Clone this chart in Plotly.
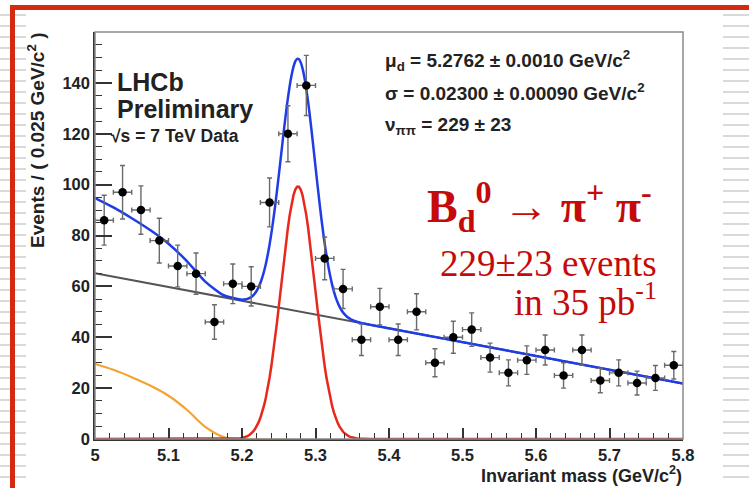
import numpy as np
import plotly.graph_objects as go

# ---------------- data ----------------
bin_centers = [5.0125, 5.0375, 5.0625, 5.0875, 5.1125, 5.1375, 5.1625, 5.1875,
               5.2125, 5.2375, 5.2625, 5.2875, 5.3125, 5.3375, 5.3625, 5.3875,
               5.4125, 5.4375, 5.4625, 5.4875, 5.5125, 5.5375, 5.5625, 5.5875,
               5.6125, 5.6375, 5.6625, 5.6875, 5.7125, 5.7375, 5.7625, 5.7875]
counts = [86, 97, 90, 78, 68, 65, 46, 61, 60, 93, 120, 139, 71, 59, 39, 52,
          39, 50, 30, 40, 43, 32, 26, 31, 35, 25, 35, 23, 26, 22, 24, 29]
count_err = [9.8, 10.5, 9.5, 8.8, 8.2, 8.1, 6.8, 7.8, 7.7, 9.6, 11.0, 11.8,
             8.4, 7.7, 6.2, 7.2, 6.2, 7.1, 5.5, 6.3, 6.6, 5.7, 5.1, 5.6,
             5.9, 5.0, 5.9, 4.8, 5.1, 4.7, 4.9, 5.4]
half_bin = 0.0125

# fit model parameters (as printed on the chart)
mu_d = 5.2762
sigma = 0.02300
n_sig = 229
bin_width = 0.025
# linear combinatorial background: values at the range ends
bkg_x = [5.0, 5.8]
bkg_y = [65.2, 21.8]
# partially reconstructed background (orange)
prb_x = [5.0, 5.025, 5.05, 5.075, 5.1, 5.125, 5.15, 5.175, 5.2]
prb_y = [29.5, 27.2, 24.3, 21.0, 17.0, 11.5, 4.8, 0.8, 0.0]

x_ticks = [5.0, 5.1, 5.2, 5.3, 5.4, 5.5, 5.6, 5.7, 5.8]
x_ticklabels = ["5", "5.1", "5.2", "5.3", "5.4", "5.5", "5.6", "5.7", "5.8"]
y_ticks = [0, 20, 40, 60, 80, 100, 120, 140]

# ---------------- model curves ----------------
def bkg(x):
    x = np.asarray(x, dtype=float)
    return bkg_y[0] + (bkg_y[1] - bkg_y[0]) * (x - bkg_x[0]) / (bkg_x[1] - bkg_x[0])

amp = n_sig * bin_width / (sigma * np.sqrt(2 * np.pi))

def sig(x):
    x = np.asarray(x, dtype=float)
    return amp * np.exp(-0.5 * ((x - mu_d) / sigma) ** 2)

fine_x = np.linspace(5.2, 5.8, 241)
curve_x = np.concatenate([np.array(prb_x[:-1]), fine_x])
prb_full = np.concatenate([np.array(prb_y[:-1]), np.zeros_like(fine_x)])
total_y = bkg(curve_x) + sig(curve_x) + prb_full

sig_x = np.linspace(5.0, 5.8, 321)

# ---------------- figure ----------------
L, R, T, B = 95, 683, 32, 439
W, H = 749, 488

def px(x):
    return (x - L) / (R - L)

def py(y):
    return (B - y) / (B - T)

fig = go.Figure()

fig.add_trace(go.Scatter(x=bkg_x, y=bkg_y, mode="lines",
                         line=dict(color="#555555", width=2), hoverinfo="skip"))
fig.add_trace(go.Scatter(x=prb_x + [5.8], y=prb_y + [0.0], mode="lines",
                         line=dict(color="#f5a231", width=2.2, shape="spline", smoothing=1.0),
                         hoverinfo="skip"))
fig.add_trace(go.Scatter(x=sig_x, y=sig(sig_x), mode="lines",
                         line=dict(color="#e8281c", width=2.5), hoverinfo="skip"))
fig.add_trace(go.Scatter(x=curve_x, y=total_y, mode="lines",
                         line=dict(color="#1f3ce6", width=2.5, shape="spline", smoothing=0.6),
                         hoverinfo="skip"))
fig.add_trace(go.Scatter(
    x=bin_centers, y=counts, mode="markers",
    marker=dict(color="black", size=8.5),
    error_y=dict(type="data", array=count_err, color="#6a6a6a", thickness=1.4, width=2.5),
    error_x=dict(type="constant", value=half_bin, color="#6a6a6a", thickness=1.4, width=2.5),
))

shapes = []
# notebook-paper lines in the slide background
for yy in range(15, 488, 11):
    for x0, x1 in [(0, 26), (723, 749)]:
        shapes.append(dict(type="line", xref="paper", yref="paper",
                           x0=px(x0), x1=px(x1), y0=py(yy), y1=py(yy),
                           line=dict(color="#d9d9d9", width=2), layer="below"))
# red slide frame
shapes.append(dict(type="line", xref="paper", yref="paper",
                   x0=px(10), x1=px(749), y0=py(7.5), y1=py(7.5),
                   line=dict(color="#d42a12", width=5)))
shapes.append(dict(type="line", xref="paper", yref="paper",
                   x0=px(12.5), x1=px(12.5), y0=py(5), y1=py(488),
                   line=dict(color="#d42a12", width=5)))
# plot frame
shapes.append(dict(type="rect", xref="paper", yref="paper", x0=0, x1=1, y0=0, y1=1,
                   line=dict(color="#8a8a8a", width=1.5), layer="above"))

sans = "Liberation Sans, Arial, Helvetica, sans-serif"
serif = "Liberation Serif, Times New Roman, serif"
dark = "#222222"
red_txt = "#c40a0a"

annotations = [
    dict(text="LHCb", x=px(115), y=py(82), font=dict(size=25, family=sans, color=dark, weight="bold")),
    dict(text="Preliminary", x=px(115), y=py(109), font=dict(size=25, family=sans, color=dark, weight="bold")),
    dict(text="√s = 7 TeV Data", x=px(109), y=py(136), font=dict(size=17.5, family=sans, color=dark, weight="bold")),
    dict(text="μ<sub>d</sub> = 5.2762 ± 0.0010 GeV/c<sup>2</sup>", x=px(383), y=py(60),
         font=dict(size=19, family=sans, color=dark, weight="bold")),
    dict(text="σ = 0.02300 ± 0.00090 GeV/c<sup>2</sup>", x=px(383), y=py(92),
         font=dict(size=19, family=sans, color=dark, weight="bold")),
    dict(text="ν<sub>ππ</sub> = 229 ± 23", x=px(383), y=py(126),
         font=dict(size=19, family=sans, color=dark, weight="bold")),
    dict(text="B<sub>d</sub><sup>0</sup> → π<sup>+</sup> π<sup>-</sup>", x=px(425), y=py(206),
         font=dict(size=46, family=serif, color=red_txt, weight="bold")),
]
for a in annotations:
    a.update(xref="paper", yref="paper", xanchor="left", yanchor="middle", showarrow=False)

annotations += [
    dict(text="229±23 events", x=px(659), y=py(263), xref="paper", yref="paper",
         xanchor="right", yanchor="middle", showarrow=False,
         font=dict(size=37, family=serif, color=red_txt)),
    dict(text="in 35 pb<sup>-1</sup>", x=px(659), y=py(299), xref="paper", yref="paper",
         xanchor="right", yanchor="middle", showarrow=False,
         font=dict(size=37, family=serif, color=red_txt)),
    dict(text="Events / ( 0.025 GeV/c<sup>2</sup> )", x=px(36), y=py(141), xref="paper", yref="paper",
         xanchor="center", yanchor="middle", textangle=-90, showarrow=False,
         font=dict(size=19, family=sans, color=dark, weight="bold")),
    dict(text="Invariant mass (GeV/c<sup>2</sup>)", x=px(684), y=py(474), xref="paper", yref="paper",
         xanchor="right", yanchor="middle", showarrow=False,
         font=dict(size=18, family=sans, color=dark, weight="bold")),
]

axis_common = dict(showgrid=False, zeroline=False, showline=True, linecolor="#333333",
                   linewidth=1.5, ticks="inside", tickcolor="#333333", tickwidth=1.5,
                   automargin=False,
                   tickfont=dict(size=16.5, family=sans, color=dark, weight="bold"))

fig.update_layout(
    width=W, height=H,
    margin=dict(l=L, r=W - R, t=T, b=H - B, pad=0, autoexpand=False),
    paper_bgcolor="white", plot_bgcolor="white",
    showlegend=False,
    shapes=shapes,
    annotations=annotations,
    xaxis=dict(range=[5.0, 5.8], tickmode="array", tickvals=x_ticks, ticktext=x_ticklabels,
               ticklen=11,
               minor=dict(ticks="inside", ticklen=6, tick0=5.0, dtick=0.02,
                          tickcolor="#333333", tickwidth=1.2),
               **axis_common),
    yaxis=dict(range=[0, 160], tickmode="array", tickvals=y_ticks, ticklen=17,
               minor=dict(ticks="inside", ticklen=7, tick0=0, dtick=5,
                          tickcolor="#333333", tickwidth=1.2),
               **axis_common),
)

fig.write_html("out.html", config={"displayModeBar": False},
               post_script="document.body.style.margin='0px';document.body.style.overflow='hidden';")
